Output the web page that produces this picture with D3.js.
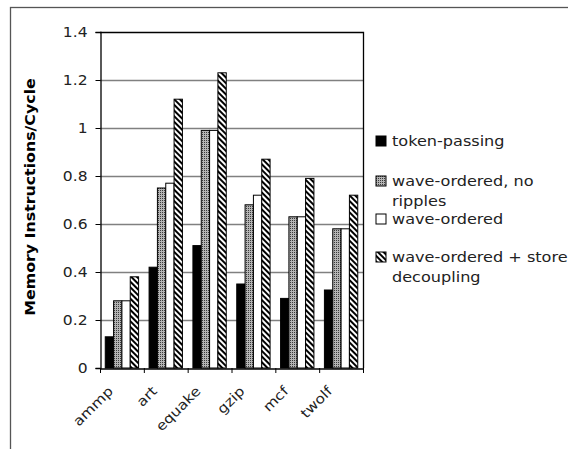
<!DOCTYPE html>
<html><head><meta charset="utf-8">
<script src="https://cdn.jsdelivr.net/npm/d3@7"></script>
<style>body{margin:0;background:#fff}svg{display:block}text{font-family:"DejaVu Sans",Verdana,sans-serif}</style>
</head><body><svg id="c" width="568" height="449"></svg>
<script>
const categories = ["ammp","art","equake","gzip","mcf","twolf"];
const seriesNames = ["token-passing","wave-ordered, no ripples","wave-ordered","wave-ordered + store decoupling"];
const tokenPassing = [0.13,0.42,0.51,0.35,0.29,0.325];
const waveNoRipples = [0.28,0.75,0.99,0.68,0.63,0.58];
const waveOrdered = [0.28,0.77,0.99,0.72,0.63,0.58];
const waveStoreDecoupling = [0.38,1.12,1.23,0.87,0.79,0.72];
const yTicks = [0,0.2,0.4,0.6,0.8,1,1.2,1.4];
const legendLines = [["token-passing"],["wave-ordered, no","ripples"],["wave-ordered"],["wave-ordered + store","decoupling"]];

const seriesValues = [tokenPassing, waveNoRipples, waveOrdered, waveStoreDecoupling];
const FS = 13.5, SX = 1.15;
const svg = d3.select("#c");
const defs = svg.append("defs");
const dots = defs.append("pattern").attr("id","dots").attr("patternUnits","userSpaceOnUse").attr("width",2).attr("height",2);
dots.append("rect").attr("width",2).attr("height",2).attr("fill","#b4b4b4");
dots.append("rect").attr("width",1).attr("height",1).attr("fill","#3a3a3a");
const hatch = defs.append("pattern").attr("id","hatch").attr("patternUnits","userSpaceOnUse").attr("width",4).attr("height",4).attr("patternTransform","rotate(-45)");
hatch.append("rect").attr("width",4).attr("height",4).attr("fill","#fff");
hatch.append("rect").attr("width",2).attr("height",4).attr("fill","#000");
const fills = ["#000","url(#dots)","#fff","url(#hatch)"];

// outer frame
svg.append("rect").attr("x",10.5).attr("y",7.5).attr("width",700).attr("height",600).attr("fill","none").attr("stroke","#555").attr("stroke-width",1.3);

const m = {l:100, t:32, r:363, b:368};
const x0 = d3.scaleBand().domain(categories).range([m.l,m.r]).paddingInner(0).paddingOuter(0);
const x1 = d3.scaleBand().domain(d3.range(4)).range([0,x0.bandwidth()]).paddingOuter(0.63).paddingInner(0);
const y = d3.scaleLinear().domain([0,1.4]).range([m.b,m.t]);

// gridlines
svg.append("g").selectAll("line").data(yTicks.filter(d=>d>0&&d<1.4)).join("line")
  .attr("x1",m.l).attr("x2",m.r).attr("y1",d=>Math.round(y(d))+0.5).attr("y2",d=>Math.round(y(d))+0.5)
  .attr("stroke","#808080").attr("stroke-width",1.3);

// bars
const g = svg.append("g");
categories.forEach((c,i)=>{
  seriesValues.forEach((vals,s)=>{
    g.append("rect").attr("x",x0(c)+x1(s)).attr("width",x1.bandwidth())
     .attr("y",y(vals[i])).attr("height",y(0)-y(vals[i]))
     .attr("fill",fills[s]).attr("stroke","#000").attr("stroke-width",1);
  });
});

// plot border (top/right)
svg.append("path").attr("d",`M${m.l},${m.t+0.5}H${m.r+0.5}V${m.b}`).attr("fill","none").attr("stroke","#000").attr("stroke-width",1.3);

// y axis
const ya = svg.append("g").attr("transform",`translate(${m.l+0.5},0)`).call(d3.axisLeft(y).tickValues(yTicks).tickSize(5).tickFormat(d=>d3.format("")(d)));
ya.select(".domain").attr("stroke","#000").attr("stroke-width",1.3);
ya.selectAll("text").attr("font-size",FS).attr("fill","#222").attr("font-family","DejaVu Sans")
  .attr("transform",`scale(${SX},1)`).attr("x",-13/SX);
// x axis
const xa = svg.append("g").attr("transform",`translate(0,${m.b+0.5})`).call(d3.axisBottom(x0).tickSize(0).tickFormat(""));
xa.select(".domain").attr("stroke","#000").attr("stroke-width",1.3);
svg.append("g").selectAll("line").data(categories.concat(["_end"])).join("line")
  .attr("x1",(d,i)=>m.l+i*x0.bandwidth()+0.5).attr("x2",(d,i)=>m.l+i*x0.bandwidth()+0.5)
  .attr("y1",m.b).attr("y2",m.b+5).attr("stroke","#000");
svg.append("g").selectAll("text").data(categories).join("text")
  .attr("transform",d=>`translate(${x0(d)+x0.bandwidth()/2-8},${m.b+24}) rotate(-45) scale(${SX},1)`)
  .attr("text-anchor","end").attr("font-size",FS).attr("fill","#222").text(d=>d);

// y title
svg.append("text").attr("transform",`translate(35,197) rotate(-90) scale(1.13,1)`)
  .attr("text-anchor","middle").attr("font-size",14).attr("font-weight","bold").attr("fill","#000")
  .text("Memory Instructions/Cycle");

// legend
const legY = [141,181,219,257];
const lg = svg.append("g");
legendLines.forEach((lines,s)=>{
  lg.append("rect").attr("x",376).attr("y",legY[s]-5).attr("width",10).attr("height",10)
    .attr("fill",fills[s]).attr("stroke","#000");
  lines.forEach((t,j)=>{
    lg.append("text").attr("transform",`translate(392,${legY[s]+j*20}) scale(${SX},1)`).attr("dy","0.35em")
      .attr("font-size",FS+0.5).attr("fill","#222").text(t);
  });
});
</script></body></html>
